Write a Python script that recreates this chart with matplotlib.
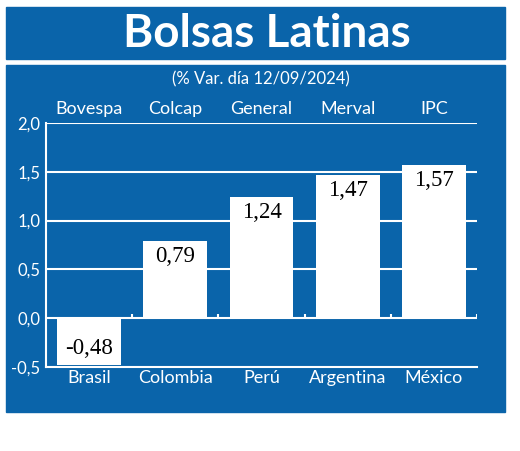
import numpy as np
import matplotlib.pyplot as plt
from matplotlib.patches import Rectangle

indices = ['Bovespa', 'Colcap', 'General', 'Merval', 'IPC']
countries = ['Brasil', 'Colombia', 'Perú', 'Argentina', 'México']
values = [-0.48, 0.79, 1.24, 1.47, 1.57]
yticks = [-0.5, 0.0, 0.5, 1.0, 1.5, 2.0]

blue = '#0a64aa'
sans = 'Lato'

fig = plt.figure(figsize=(5.2, 4.51), dpi=100)
fig.patch.set_facecolor('white')

# title band and main panel
fig.patches.append(Rectangle((6/520, 1-59/451), 499/520, 52/451,
                             transform=fig.transFigure, color=blue, zorder=-5))
fig.patches.append(Rectangle((6/520, 1-412/451), 499/520, 347/451,
                             transform=fig.transFigure, color=blue, zorder=-5))
fig.text(267/520, 1-34/451, 'Bolsas Latinas', color='white', fontsize=33,
         fontweight='bold', family=sans, ha='center', va='center')
fig.text(261/520, 1-79/451, '(% Var. día 12/09/2024)', color='white',
         fontsize=12, family=sans, ha='center', va='center')

ax = fig.add_axes([46/520, 1-367/451, 431/520, 244/451])
ax.set_facecolor('none')
x = np.arange(len(values))
ax.bar(x, values, width=0.74, color='white', zorder=2)
ax.set_xlim(-0.5, len(values) - 0.5)
ax.set_ylim(-0.5, 2.0)

for v in yticks[2:]:
    ax.axhline(v, color='white', lw=1.5, zorder=1)
ax.axhline(0, color='white', lw=1.5, zorder=3)
ax.vlines(x + 0.5, 0, 0.045, color='white', lw=1.5, zorder=3)

for s in ['top', 'right']:
    ax.spines[s].set_visible(False)
for s in ['left', 'bottom']:
    ax.spines[s].set_color('white')
    ax.spines[s].set_linewidth(1.5)

ax.set_yticks(yticks)
ax.set_yticklabels([f'{v:.1f}'.replace('.', ',') for v in yticks],
                   color='white', fontsize=12, family=sans)
ax.tick_params(axis='y', length=0, pad=4)
ax.set_xticks(x)
ax.set_xticklabels(countries, color='white', fontsize=13, family=sans)
ax.tick_params(axis='x', length=0, pad=2)

top = ax.secondary_xaxis('top')
top.set_xticks(x)
top.set_xticklabels(indices, color='white', fontsize=13, family=sans)
top.tick_params(length=0, pad=4)
top.spines['top'].set_visible(False)

for xi, v in zip(x, values):
    off = -11 if v > 0 else 12
    ax.annotate(f'{v:.2f}'.replace('.', ','), (xi, v), xytext=(0, off),
                textcoords='offset points', ha='center', va='center',
                fontsize=16.5, family='Liberation Serif', color='black', zorder=4)

fig.savefig('out.png', dpi=100)
